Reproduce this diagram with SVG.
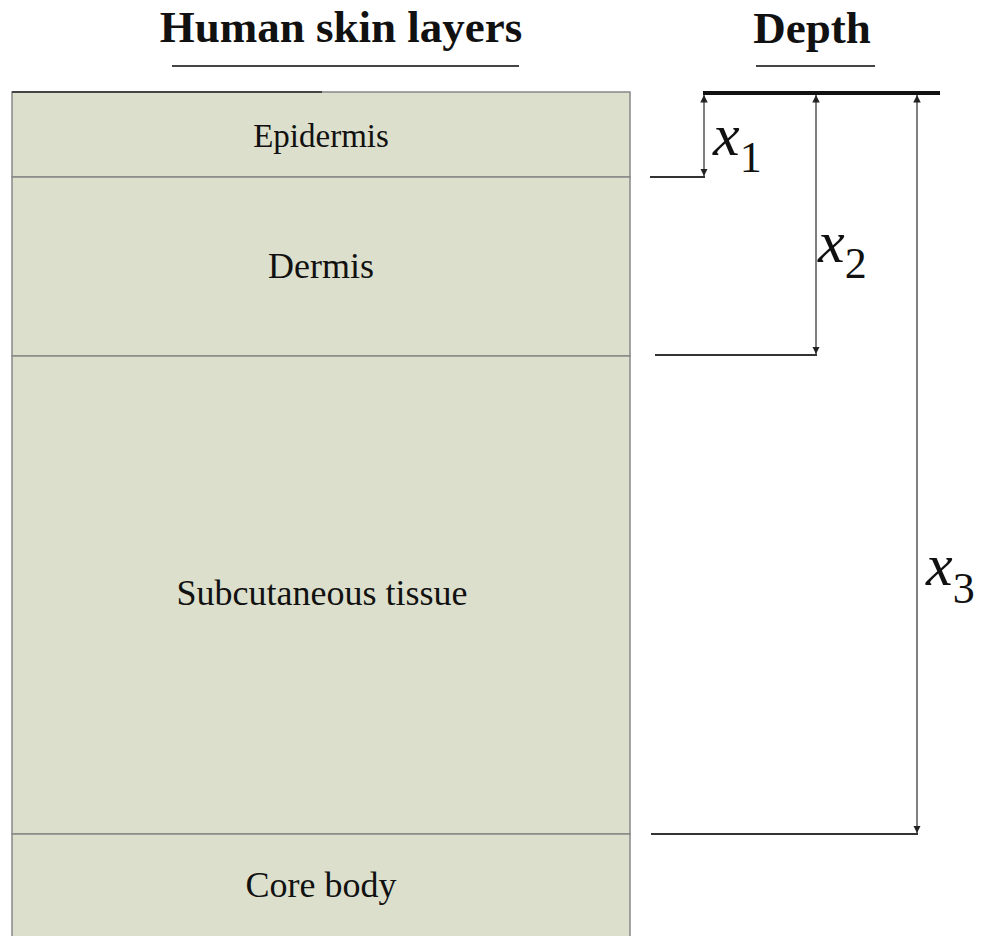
<svg xmlns="http://www.w3.org/2000/svg" width="984" height="936" viewBox="0 0 984 936">
<style>
.t{font-family:"Liberation Serif","Times New Roman",serif;fill:#111}
.h{font-weight:bold;font-size:45px;text-anchor:middle}
.l{font-size:36px;text-anchor:middle}
.v{font-style:italic;font-size:60px}
.s{font-size:44px}
.ln{stroke:#333;stroke-width:2;fill:none}
.dim{stroke:#555;stroke-width:1.5;fill:none}
</style>
<defs>
<marker id="ah" viewBox="0 0 10 10" refX="10" refY="5" markerWidth="5" markerHeight="5" orient="auto-start-reverse">
<path d="M0,0 L10,5 L0,10 z" fill="#222"/>
</marker>
</defs>
<rect width="984" height="936" fill="#fff"/>
<g id="titles">
<text class="t h" x="341" y="42">Human skin layers</text>
<line x1="172" y1="66" x2="519" y2="66" stroke="#444" stroke-width="2"/>
<text class="t h" x="812" y="43">Depth</text>
<line x1="756" y1="66" x2="875" y2="66" stroke="#444" stroke-width="2"/>
</g>
<g id="layers">
<g id="epidermis">
<rect x="12" y="92" width="618" height="85" fill="#dcdfcb" stroke="#888" stroke-width="1.5"/>
<line x1="12" y1="92" x2="322" y2="92" stroke="#444" stroke-width="2"/>
<text class="t" x="321" y="147" font-size="33" text-anchor="middle">Epidermis</text>
</g>
<g id="dermis">
<rect x="12" y="177" width="618" height="179" fill="#dcdfcb" stroke="#888" stroke-width="1.5"/>
<text class="t l" x="321" y="278">Dermis</text>
</g>
<g id="subcutaneous">
<rect x="12" y="356" width="618" height="478" fill="#dcdfcb" stroke="#888" stroke-width="1.5"/>
<text class="t l" x="322" y="605">Subcutaneous tissue</text>
</g>
<g id="core">
<rect x="12" y="834" width="618" height="110" fill="#dcdfcb" stroke="#888" stroke-width="1.5"/>
<text class="t l" x="321" y="897">Core body</text>
</g>
</g>
<g id="connectors">
<line x1="703" y1="93" x2="940" y2="93" stroke="#111" stroke-width="4"/>
<line class="ln" x1="650" y1="177" x2="705" y2="177"/>
<line class="dim" x1="704" y1="95" x2="704" y2="176" marker-start="url(#ah)" marker-end="url(#ah)"/>
<line class="ln" x1="655" y1="355" x2="817" y2="355"/>
<line class="dim" x1="816" y1="95" x2="816" y2="354" marker-start="url(#ah)" marker-end="url(#ah)"/>
<line class="ln" x1="651" y1="834" x2="918" y2="834"/>
<line class="dim" x1="917" y1="95" x2="917" y2="833" marker-start="url(#ah)" marker-end="url(#ah)"/>
</g>
<g id="labels">
<text class="t" x="713" y="155"><tspan class="v">x</tspan><tspan class="s" dy="17">1</tspan></text>
<text class="t" x="818" y="262"><tspan class="v">x</tspan><tspan class="s" dy="16">2</tspan></text>
<text class="t" x="926" y="585"><tspan class="v">x</tspan><tspan class="s" dy="18">3</tspan></text>
</g>
</svg>
